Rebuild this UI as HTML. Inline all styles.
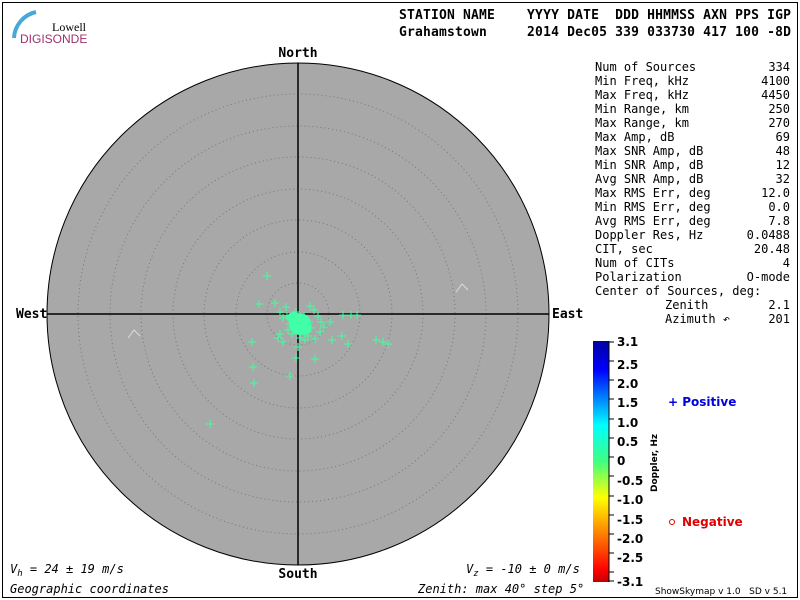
<!DOCTYPE html>
<html><head><meta charset="utf-8"><style>
body{margin:0;background:#fff;width:800px;height:600px;overflow:hidden}
svg{display:block}
.m{font-family:"DejaVu Sans Mono","Liberation Mono",monospace;font-size:12px;fill:#000}
.b{font-family:"DejaVu Sans Mono","Liberation Mono",monospace;font-size:13px;font-weight:bold;fill:#000}
.s{font-family:"DejaVu Sans","Liberation Sans",sans-serif;font-size:12px;font-weight:bold}
</style></head><body>
<svg width="800" height="600" viewBox="0 0 800 600">
<defs>
<linearGradient id="g" x1="0" y1="0" x2="0" y2="1">
<stop offset="0" stop-color="#0000a0"/><stop offset="0.12" stop-color="#0000ff"/>
<stop offset="0.35" stop-color="#00ffff"/><stop offset="0.5" stop-color="#40ff80"/>
<stop offset="0.65" stop-color="#ffff00"/><stop offset="0.8" stop-color="#ff8000"/>
<stop offset="0.95" stop-color="#ff0000"/><stop offset="1" stop-color="#c00000"/>
</linearGradient>
<path id="p" d="M-4,0h8M0,-4v8" stroke="#40ffa0" stroke-width="1"/>
</defs>
<rect x="2.5" y="2.5" width="795" height="595" fill="none" stroke="#000"/>
<path d="M14,38 A28,28 0 0 1 36,12" stroke="#4aa8d8" stroke-width="4" fill="none"/>
<text x="52" y="31" font-family="Liberation Serif,serif" font-size="12">Lowell</text>
<text x="20" y="43" font-family="Liberation Sans,sans-serif" font-size="12" fill="#a0306a">DIGISONDE</text>
<text x="399" y="19" class="b" xml:space="preserve" textLength="392">STATION NAME    YYYY DATE  DDD HHMMSS AXN PPS IGP</text>
<text x="399" y="36" class="b" xml:space="preserve" textLength="392">Grahamstown     2014 Dec05 339 033730 417 100 -8D</text>
<circle cx="298" cy="314" r="251" fill="#a8a8a8" stroke="#000"/>
<g fill="none" stroke="#777" stroke-dasharray="1,3">
<circle cx="298" cy="314" r="31"/><circle cx="298" cy="314" r="62"/><circle cx="298" cy="314" r="94"/>
<circle cx="298" cy="314" r="125"/><circle cx="298" cy="314" r="157"/><circle cx="298" cy="314" r="188"/>
<circle cx="298" cy="314" r="220"/></g>
<path d="M298,63V565M47,314H549" stroke="#000" stroke-width="1.5"/>
<text x="298" y="57" class="b" text-anchor="middle">North</text>
<text x="298" y="578" class="b" text-anchor="middle">South</text>
<text x="16" y="318" class="b">West</text>
<text x="552" y="318" class="b">East</text>
<path d="M128,338l6,-8l6,6M456,292l6,-8l6,6" stroke="#ddd" fill="none"/>
<g fill="#40ffa8"><ellipse cx="300" cy="324" rx="11" ry="11"/><ellipse cx="294" cy="318" rx="7" ry="6"/><ellipse cx="305" cy="330" rx="6" ry="5"/></g>
<g>
<use href="#p" x="267" y="276"/><use href="#p" x="259" y="304"/><use href="#p" x="275" y="303"/>
<use href="#p" x="252" y="342"/><use href="#p" x="253" y="367"/><use href="#p" x="254" y="383"/>
<use href="#p" x="290" y="376"/><use href="#p" x="210" y="424"/><use href="#p" x="296" y="358"/>
<use href="#p" x="315" y="359"/><use href="#p" x="283" y="342"/><use href="#p" x="298" y="347"/>
<use href="#p" x="332" y="340"/><use href="#p" x="348" y="344"/><use href="#p" x="342" y="336"/>
<use href="#p" x="343" y="315"/><use href="#p" x="351" y="315"/><use href="#p" x="357" y="315"/>
<use href="#p" x="376" y="340"/><use href="#p" x="383" y="342"/><use href="#p" x="388" y="344"/>
<use href="#p" x="278" y="338"/><use href="#p" x="280" y="334"/><use href="#p" x="288" y="330"/>
<use href="#p" x="330" y="322"/><use href="#p" x="324" y="327"/><use href="#p" x="320" y="332"/>
<use href="#p" x="315" y="339"/><use href="#p" x="305" y="340"/><use href="#p" x="308" y="336"/>
<use href="#p" x="280" y="312"/><use href="#p" x="283" y="318"/><use href="#p" x="286" y="307"/>
<use href="#p" x="310" y="306"/><use href="#p" x="314" y="310"/><use href="#p" x="318" y="316"/>
<use href="#p" x="321" y="322"/><use href="#p" x="311" y="328"/><use href="#p" x="290" y="324"/>
<use href="#p" x="296" y="312"/><use href="#p" x="304" y="316"/><use href="#p" x="309" y="322"/>
<use href="#p" x="292" y="334"/><use href="#p" x="300" y="338"/><use href="#p" x="287" y="316"/>
</g>
<g class="m" xml:space="preserve">
<text x="595" y="71">Num of Sources</text><text x="790" y="71" text-anchor="end">334</text>
<text x="595" y="85">Min Freq, kHz</text><text x="790" y="85" text-anchor="end">4100</text>
<text x="595" y="99">Max Freq, kHz</text><text x="790" y="99" text-anchor="end">4450</text>
<text x="595" y="113">Min Range, km</text><text x="790" y="113" text-anchor="end">250</text>
<text x="595" y="127">Max Range, km</text><text x="790" y="127" text-anchor="end">270</text>
<text x="595" y="141">Max Amp, dB</text><text x="790" y="141" text-anchor="end">69</text>
<text x="595" y="155">Max SNR Amp, dB</text><text x="790" y="155" text-anchor="end">48</text>
<text x="595" y="169">Min SNR Amp, dB</text><text x="790" y="169" text-anchor="end">12</text>
<text x="595" y="183">Avg SNR Amp, dB</text><text x="790" y="183" text-anchor="end">32</text>
<text x="595" y="197">Max RMS Err, deg</text><text x="790" y="197" text-anchor="end">12.0</text>
<text x="595" y="211">Min RMS Err, deg</text><text x="790" y="211" text-anchor="end">0.0</text>
<text x="595" y="225">Avg RMS Err, deg</text><text x="790" y="225" text-anchor="end">7.8</text>
<text x="595" y="239">Doppler Res, Hz</text><text x="790" y="239" text-anchor="end">0.0488</text>
<text x="595" y="253">CIT, sec</text><text x="790" y="253" text-anchor="end">20.48</text>
<text x="595" y="267">Num of CITs</text><text x="790" y="267" text-anchor="end">4</text>
<text x="595" y="281">Polarization</text><text x="790" y="281" text-anchor="end">O-mode</text>
<text x="595" y="295">Center of Sources, deg:</text>
<text x="665" y="309">Zenith</text><text x="790" y="309" text-anchor="end">2.1</text>
<text x="665" y="323">Azimuth ↶</text><text x="790" y="323" text-anchor="end">201</text>
</g>
<rect x="593" y="341" width="16" height="241" fill="url(#g)"/>
<path d="M609,341V582" stroke="#000"/>
<g stroke="#000">
<path d="M609,342h5M609,361h5M609,380h5M609,399h5M609,419h5M609,438h5M609,457h5M609,476h5M609,496h5M609,515h5M609,534h5M609,553h5M609,572h5M609,581h5"/>
</g>
<g class="s" fill="#000">
<text x="617" y="346">3.1</text><text x="617" y="369">2.5</text><text x="617" y="388">2.0</text>
<text x="617" y="407">1.5</text><text x="617" y="427">1.0</text><text x="617" y="446">0.5</text>
<text x="617" y="465">0</text><text x="617" y="485">-0.5</text><text x="617" y="504">-1.0</text>
<text x="617" y="524">-1.5</text><text x="617" y="543">-2.0</text><text x="617" y="562">-2.5</text>
<text x="617" y="586">-3.1</text>
</g>
<text transform="translate(657,492) rotate(-90)" font-family="DejaVu Sans,sans-serif" font-size="9" font-weight="bold">Doppler, Hz</text>
<text x="668" y="406" class="s" fill="#0000e0" font-size="11">+ Positive</text>
<circle cx="672" cy="522" r="2.5" fill="none" stroke="#e00000"/>
<text x="682" y="526" class="s" fill="#e00000" font-size="11">Negative</text>
<text x="655" y="594" font-family="DejaVu Sans,sans-serif" font-size="9" xml:space="preserve">ShowSkymap v 1.0   SD v 5.1</text>
<text x="10" y="573" class="m" font-style="italic">V<tspan font-size="9" dy="3">h</tspan><tspan dy="-3"> = 24 ± 19 m/s</tspan></text>
<text x="466" y="573" class="m" font-style="italic">V<tspan font-size="9" dy="3">z</tspan><tspan dy="-3"> = -10 ± 0 m/s</tspan></text>
<text x="10" y="593" class="m" font-style="italic">Geographic coordinates</text>
<text x="418" y="593" class="m" font-style="italic">Zenith: max 40°  step 5°</text>
</svg>
</body></html>
